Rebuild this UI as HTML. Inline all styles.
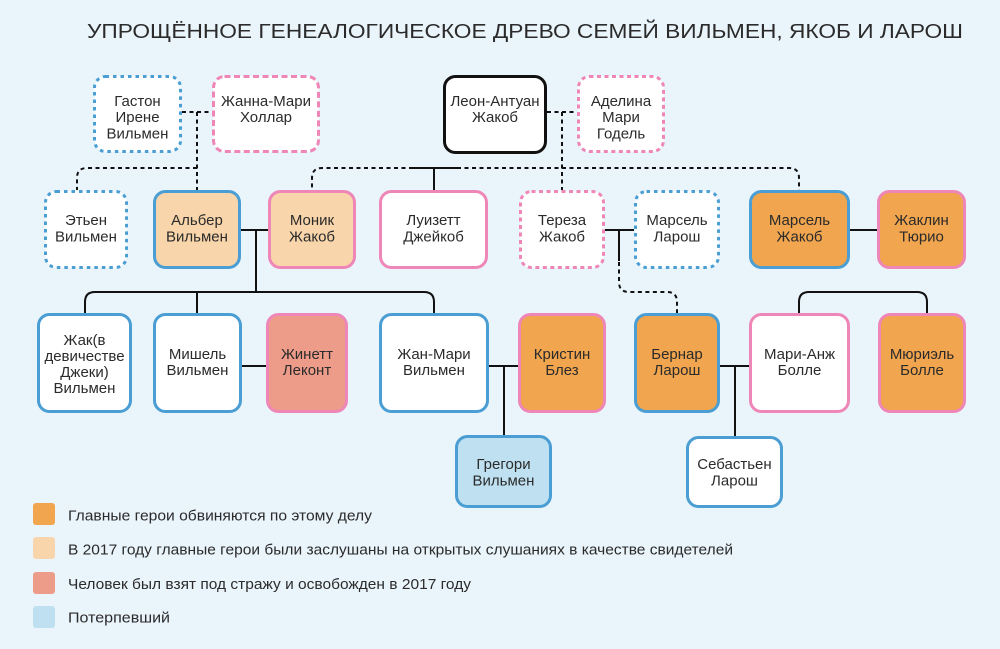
<!DOCTYPE html>
<html><head><meta charset="utf-8"><style>
html,body{margin:0;padding:0;background:#EAF4FB;}
svg{display:block;}
text{font-family:"Liberation Sans","DejaVu Sans",sans-serif;fill:#2b2b2b;}
.n text{font-size:15px;text-anchor:middle;}
</style></head><body>
<svg width="1000" height="649" viewBox="0 0 1000 649" xmlns="http://www.w3.org/2000/svg">
<rect width="1000" height="649" fill="#EAF4FB"/>
<text x="87" y="38" font-size="20" textLength="876" lengthAdjust="spacingAndGlyphs" fill="#333">УПРОЩЁННОЕ ГЕНЕАЛОГИЧЕСКОЕ ДРЕВО СЕМЕЙ ВИЛЬМЕН, ЯКОБ И ЛАРОШ</text>

<!-- connectors -->
<g fill="none" stroke="#111" stroke-width="2">
<g stroke-dasharray="4 3.5">
<path d="M182 112 H212"/>
<path d="M197 112 V190"/>
<path d="M197 168 H87 Q77 168 77 178 V190"/>
<path d="M413 168 H322 Q312 168 312 178 V190"/>
<path d="M547 112 H577"/>
<path d="M562 112 V190"/>
<path d="M457 168 H789 Q799 168 799 178 V190"/>
<path d="M619 262 V282 Q619 292 629 292 H667 Q677 292 677 302 V314"/>
</g>
<path d="M413 168 H458"/>
<path d="M434 168 V190"/>
<path d="M241 230 H268"/>
<path d="M256 230 V292"/>
<path d="M85 314 V302 Q85 292 95 292 H424 Q434 292 434 302 V314"/>
<path d="M197 292 V314"/>
<path d="M241 366 H266"/>
<path d="M489 366 H518"/>
<path d="M504 366 V435"/>
<path d="M605 230 H634"/>
<path d="M619 230 V261"/>
<path d="M850 230 H877"/>
<path d="M720 366 H749"/>
<path d="M735 366 V436"/>
<path d="M799 314 V302 Q799 292 809 292 H917 Q927 292 927 302 V314"/>
</g>

<!-- nodes -->
<g class="n" stroke-width="3">
<!-- row 1 -->
<rect x="94.5" y="76.5" width="86" height="75" rx="11" fill="#fff" stroke="#4A9ED3" stroke-dasharray="3.5 4"/>
<text x="137.5" y="106">Гастон</text><text x="137.5" y="122">Ирене</text><text x="137.5" y="138.5">Вильмен</text>

<rect x="213.5" y="76.5" width="105" height="75" rx="11" fill="#fff" stroke="#EE87B7" stroke-dasharray="6 3.5"/>
<text x="266" y="106">Жанна-Мари</text><text x="266" y="122">Холлар</text>

<rect x="444.5" y="76.5" width="101" height="76" rx="11" fill="#fff" stroke="#111"/>
<text x="495" y="106">Леон-Антуан</text><text x="495" y="122">Жакоб</text>

<rect x="578.5" y="76.5" width="85" height="75" rx="11" fill="#fff" stroke="#EE87B7" stroke-dasharray="4 3.5"/>
<text x="621" y="106">Аделина</text><text x="621" y="122">Мари</text><text x="621" y="138.5">Годель</text>

<!-- row 2 -->
<rect x="45.5" y="191.5" width="81" height="76" rx="11" fill="#fff" stroke="#4A9ED3" stroke-dasharray="3.5 4"/>
<text x="86" y="225">Этьен</text><text x="86" y="241.5">Вильмен</text>

<rect x="154.5" y="191.5" width="85" height="76" rx="11" fill="#F8D5AA" stroke="#4A9ED3"/>
<text x="197" y="225">Альбер</text><text x="197" y="241.5">Вильмен</text>

<rect x="269.5" y="191.5" width="85" height="76" rx="11" fill="#F8D5AA" stroke="#EE87B7"/>
<text x="312" y="225">Моник</text><text x="312" y="241.5">Жакоб</text>

<rect x="380.5" y="191.5" width="106" height="76" rx="11" fill="#fff" stroke="#EE87B7"/>
<text x="433.5" y="225">Луизетт</text><text x="433.5" y="241.5">Джейкоб</text>

<rect x="520.5" y="191.5" width="83" height="76" rx="11" fill="#fff" stroke="#EE87B7" stroke-dasharray="4 3.5"/>
<text x="562" y="225">Тереза</text><text x="562" y="241.5">Жакоб</text>

<rect x="635.5" y="191.5" width="83" height="76" rx="11" fill="#fff" stroke="#4A9ED3" stroke-dasharray="3.5 4"/>
<text x="677" y="225">Марсель</text><text x="677" y="241.5">Ларош</text>

<rect x="750.5" y="191.5" width="98" height="76" rx="11" fill="#F0A54E" stroke="#4A9ED3"/>
<text x="799.5" y="225">Марсель</text><text x="799.5" y="241.5">Жакоб</text>

<rect x="878.5" y="191.5" width="86" height="76" rx="11" fill="#F0A54E" stroke="#EE87B7"/>
<text x="921.5" y="225">Жаклин</text><text x="921.5" y="241.5">Тюрио</text>

<!-- row 3 -->
<rect x="38.5" y="314.5" width="92" height="97" rx="11" fill="#fff" stroke="#4A9ED3"/>
<text x="84.5" y="345">Жак(в</text><text x="84.5" y="361">девичестве</text><text x="84.5" y="377">Джеки)</text><text x="84.5" y="393">Вильмен</text>

<rect x="154.5" y="314.5" width="86" height="97" rx="11" fill="#fff" stroke="#4A9ED3"/>
<text x="197.5" y="359">Мишель</text><text x="197.5" y="375">Вильмен</text>

<rect x="267.5" y="314.5" width="79" height="97" rx="11" fill="#EE9C8A" stroke="#EE87B7"/>
<text x="307" y="359">Жинетт</text><text x="307" y="375">Леконт</text>

<rect x="380.5" y="314.5" width="107" height="97" rx="11" fill="#fff" stroke="#4A9ED3"/>
<text x="434" y="359">Жан-Мари</text><text x="434" y="375">Вильмен</text>

<rect x="519.5" y="314.5" width="85" height="97" rx="11" fill="#F0A54E" stroke="#EE87B7"/>
<text x="562" y="359">Кристин</text><text x="562" y="375">Блез</text>

<rect x="635.5" y="314.5" width="83" height="97" rx="11" fill="#F0A54E" stroke="#4A9ED3"/>
<text x="677" y="359">Бернар</text><text x="677" y="375">Ларош</text>

<rect x="750.5" y="314.5" width="98" height="97" rx="11" fill="#fff" stroke="#EE87B7"/>
<text x="799.5" y="359">Мари-Анж</text><text x="799.5" y="375">Болле</text>

<rect x="879.5" y="314.5" width="85" height="97" rx="11" fill="#F0A54E" stroke="#EE87B7"/>
<text x="922" y="359">Мюриэль</text><text x="922" y="375">Болле</text>

<!-- row 4 -->
<rect x="456.5" y="436.5" width="94" height="70" rx="11" fill="#BEE0F0" stroke="#4A9ED3"/>
<text x="503.5" y="469">Грегори</text><text x="503.5" y="485.5">Вильмен</text>

<rect x="687.5" y="437.5" width="94" height="69" rx="11" fill="#fff" stroke="#4A9ED3"/>
<text x="734.5" y="469">Себастьен</text><text x="734.5" y="485.5">Ларош</text>
</g>

<!-- legend -->
<rect x="33" y="503" width="22" height="22" rx="3" fill="#F0A54E"/>
<rect x="33" y="537" width="22" height="22" rx="3" fill="#F8D5AA"/>
<rect x="33" y="572" width="22" height="22" rx="3" fill="#EE9C8A"/>
<rect x="33" y="606" width="22" height="22" rx="3" fill="#BEE0F0"/>
<g font-size="15" fill="#333">
<text x="68" y="520.5" textLength="304" lengthAdjust="spacingAndGlyphs">Главные герои обвиняются по этому делу</text>
<text x="68" y="554.5" textLength="665" lengthAdjust="spacingAndGlyphs">В 2017 году главные герои были заслушаны на открытых слушаниях в качестве свидетелей</text>
<text x="68" y="589" textLength="403" lengthAdjust="spacingAndGlyphs">Человек был взят под стражу и освобожден в 2017 году</text>
<text x="68" y="622.5" textLength="102" lengthAdjust="spacingAndGlyphs">Потерпевший</text>
</g>
</svg>
</body></html>
